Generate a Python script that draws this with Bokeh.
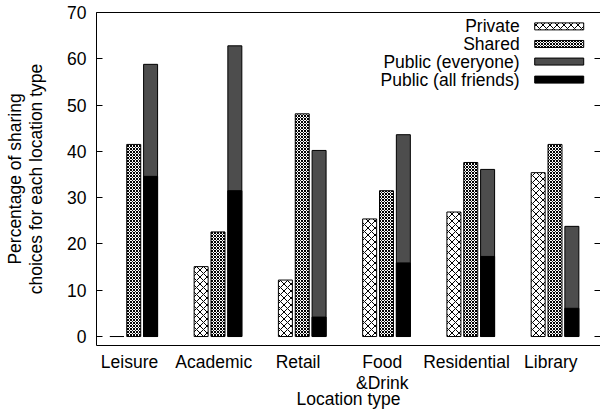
from bokeh.plotting import figure
from bokeh.models import Range1d, LinearAxis, FixedTicker, ColumnDataSource
from bokeh.core.properties import value
from bokeh.embed import file_html
from bokeh.resources import INLINE

# ---- data ----
categories = ["Leisure", "Academic", "Retail", "Food\n&Drink", "Residential", "Library"]
private = [0, 15.1, 12.2, 25.4, 26.9, 35.4]
shared = [41.5, 22.6, 48.1, 31.5, 37.6, 41.5]
public_everyone = [58.8, 62.8, 40.2, 43.6, 36.1, 23.8]
public_friends = [34.6, 31.5, 4.2, 15.9, 17.3, 6.1]
series_names = ["Private", "Shared", "Public (everyone)", "Public (all friends)"]
y_ticks = [0, 10, 20, 30, 40, 50, 60, 70]

# ---- layout / style constants ----
FONT = "Liberation Sans"
FS = "17.5px"
BAR_W = 0.166
OFFSETS = [-0.15, 0.05, 0.25]
GRAY = "#4d4d4d"

p = figure(width=600, height=413, output_backend="svg", toolbar_location=None,
           x_range=Range1d(-0.392, 5.59), y_range=Range1d(-1.94, 70),
           min_border_left=96, min_border_right=0, min_border_top=12,
           min_border_bottom=68)
p.xgrid.visible = False
p.ygrid.visible = False
p.outline_line_color = None
p.background_fill_color = "white"
p.border_fill_color = "white"

idx = list(range(len(categories)))
src = ColumnDataSource(dict(
    xp=[i + OFFSETS[0] for i in idx],
    xs=[i + OFFSETS[1] for i in idx],
    xe=[i + OFFSETS[2] for i in idx],
    private=private, shared=shared,
    everyone=public_everyone, friends=public_friends,
))

p.vbar(x="xp", top="private", bottom=0, width=BAR_W, source=src,
       fill_color="white", line_color="black", line_width=1,
       hatch_pattern="diagonal_cross", hatch_color="black", hatch_scale=7, hatch_weight=1)
p.vbar(x="xs", top="shared", bottom=0, width=BAR_W, source=src,
       fill_color="white", line_color="black", line_width=1,
       hatch_pattern="diagonal_cross", hatch_color="black", hatch_scale=3, hatch_weight=1)
p.vbar(x="xe", top="everyone", bottom=0, width=BAR_W, source=src,
       fill_color=GRAY, line_color="black", line_width=1)
p.vbar(x="xe", top="friends", bottom=0, width=BAR_W, source=src,
       fill_color="black", line_color="black", line_width=1)

# ---- legend (label on the left, sample on the right) ----
LEG_TEXT_X = 4.63
LEG_SAMPLE_X = 5.10
LEG_Y = [67.0, 63.2, 59.4, 55.5]
p.text(x=[LEG_TEXT_X] * 4, y=LEG_Y, text=series_names,
       text_align="right", text_baseline="middle",
       text_font=value(FONT), text_font_size=FS, text_color="black")
p.rect(x=[LEG_SAMPLE_X], y=[LEG_Y[0]], width=49, height=7,
       width_units="screen", height_units="screen",
       fill_color="white", line_color="black", line_width=1,
       hatch_pattern="diagonal_cross", hatch_color="black", hatch_scale=7, hatch_weight=1)
p.rect(x=[LEG_SAMPLE_X], y=[LEG_Y[1]], width=49, height=7,
       width_units="screen", height_units="screen",
       fill_color="white", line_color="black", line_width=1,
       hatch_pattern="diagonal_cross", hatch_color="black", hatch_scale=3, hatch_weight=1)
p.rect(x=[LEG_SAMPLE_X], y=[LEG_Y[2]], width=49, height=7,
       width_units="screen", height_units="screen",
       fill_color=GRAY, line_color="black", line_width=1)
p.rect(x=[LEG_SAMPLE_X], y=[LEG_Y[3]], width=49, height=7,
       width_units="screen", height_units="screen",
       fill_color="black", line_color="black", line_width=1)

# ---- axes ----
xa = p.xaxis[0]
xa.ticker = FixedTicker(ticks=idx)
xa.major_label_overrides = {i: c for i, c in zip(idx, categories)}
xa.major_tick_in = 0
xa.major_tick_out = 0
xa.minor_tick_line_color = None
xa.axis_line_color = "black"
xa.major_label_standoff = 6
xa.major_label_text_font = FONT
xa.major_label_text_font_size = FS
xa.major_label_text_color = "black"
xa.major_label_text_line_height = 1.05
xa.axis_label = "Location type"
xa.axis_label_text_font = FONT
xa.axis_label_text_font_size = FS
xa.axis_label_text_font_style = "normal"
xa.axis_label_text_color = "black"
xa.axis_label_standoff = -7

ya = p.yaxis[0]
ya.ticker = FixedTicker(ticks=y_ticks)
ya.major_tick_in = 6
ya.major_tick_out = 0
ya.minor_tick_line_color = None
ya.axis_line_color = "black"
ya.major_label_standoff = 10
ya.major_label_text_font = FONT
ya.major_label_text_font_size = FS
ya.major_label_text_color = "black"
ya.axis_label = "Percentage of sharing\nchoices for each location type"
ya.axis_label_text_font = FONT
ya.axis_label_text_font_size = FS
ya.axis_label_text_font_style = "normal"
ya.axis_label_text_color = "black"
ya.axis_label_text_line_height = 1.05
ya.axis_label_standoff = 18

# mirrored ticks on the right, no line (frame runs off the page edge)
ra = LinearAxis(ticker=FixedTicker(ticks=y_ticks))
ra.major_tick_in = 6
ra.major_tick_out = 0
ra.minor_tick_line_color = None
ra.axis_line_color = None
ra.major_label_overrides = {t: "" for t in y_ticks}
ra.major_label_standoff = 0
p.add_layout(ra, "right")

# top border line
ta = LinearAxis(ticker=FixedTicker(ticks=[]))
ta.major_tick_in = 0
ta.major_tick_out = 0
ta.minor_tick_line_color = None
ta.axis_line_color = "black"
ta.major_label_standoff = 0
p.add_layout(ta, "above")

open("out.html", "w").write(file_html(p, INLINE))
